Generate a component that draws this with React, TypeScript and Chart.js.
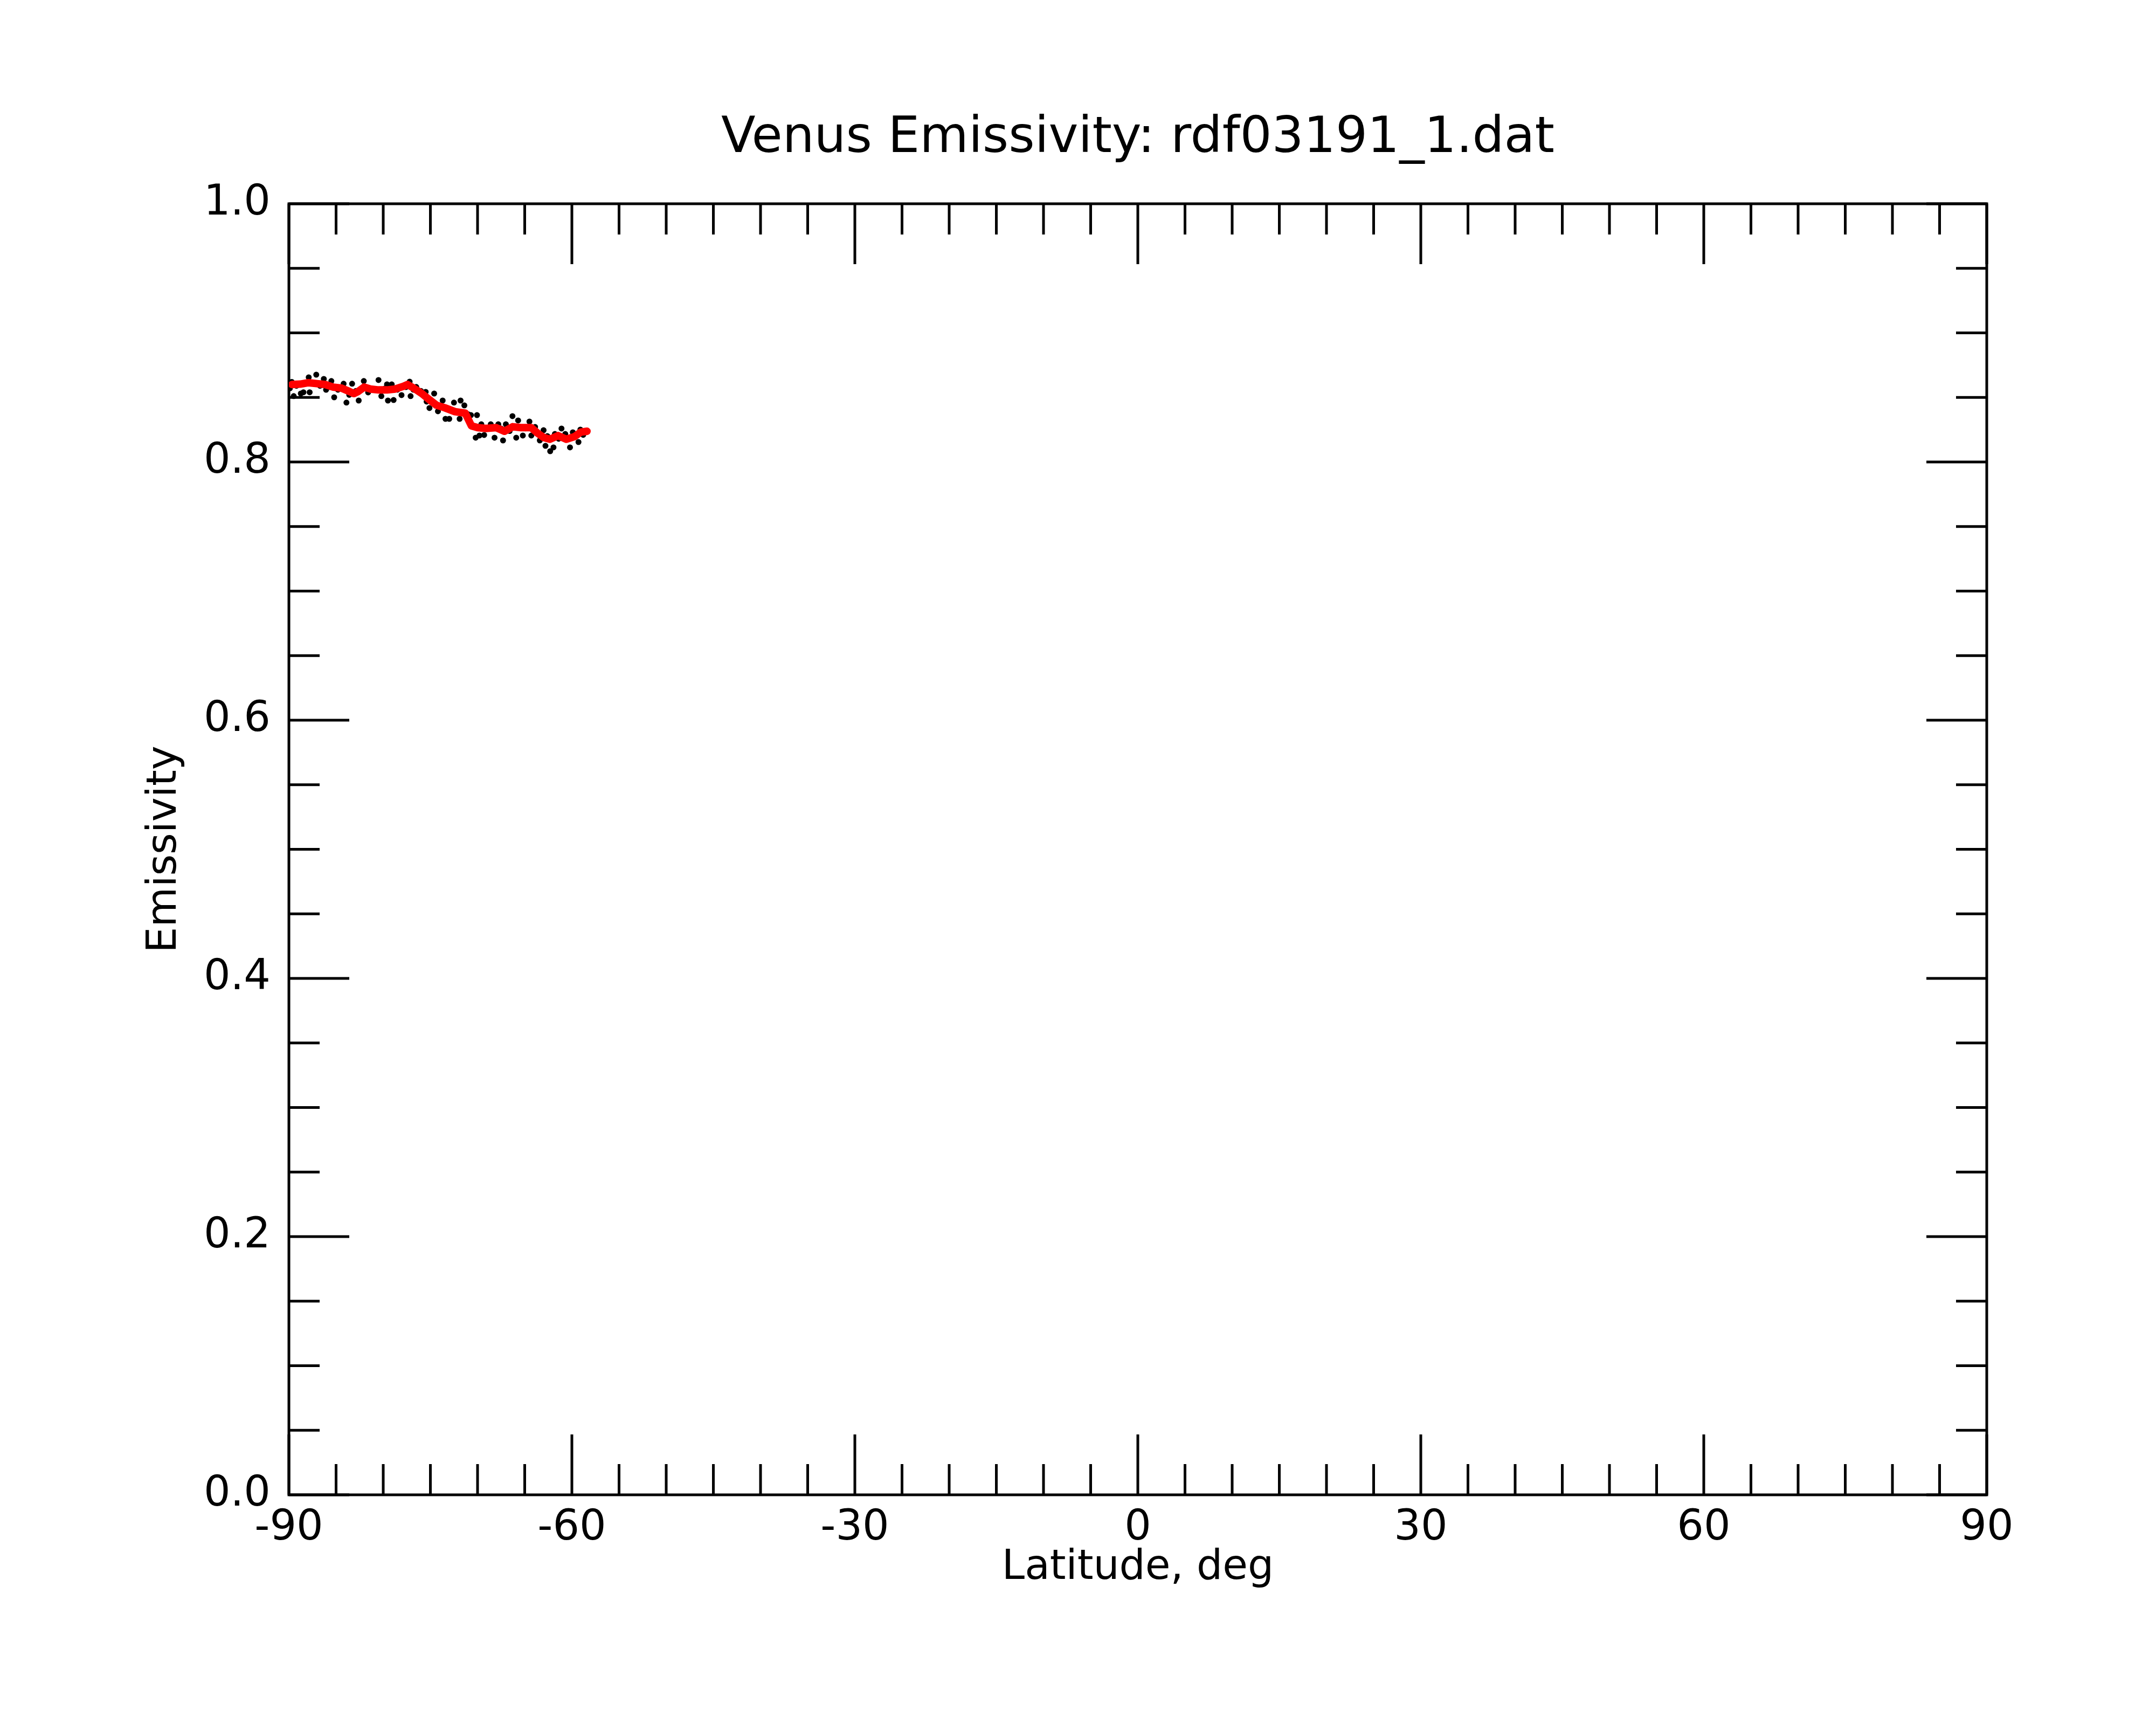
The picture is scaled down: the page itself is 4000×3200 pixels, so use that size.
import React, { useEffect, useRef } from "react";
import Chart from "chart.js/auto";

// smoothed emissivity profile (red line)
const smoothLat = [
  -89.67, -88.8, -87.92, -87.05, -86.17, -85.3, -84.42, -83.55, -83.11, -82.67,
  -82.02, -81.36, -80.49, -79.61, -78.74, -77.86, -77.43, -76.77, -75.9, -75.24,
  -74.36, -73.49, -72.4, -71.3, -70.65, -69.99, -69.12, -68.02, -67.15, -66.27,
  -65.4, -64.31, -63.65, -63.0, -62.34, -61.46, -60.59, -59.71, -59.06, -58.4,
];
const smoothEmis = [
  0.86, 0.8603, 0.8614, 0.8607, 0.86, 0.858, 0.8572, 0.8545, 0.853, 0.8545,
  0.858, 0.8565, 0.8558, 0.8558, 0.8565, 0.8586, 0.86, 0.8572, 0.853, 0.849,
  0.844, 0.842, 0.839, 0.8378, 0.828, 0.8266, 0.826, 0.8266, 0.8238, 0.8273,
  0.8266, 0.8266, 0.8224, 0.819, 0.8176, 0.8204, 0.8176, 0.8197, 0.8231, 0.8238,
];

// raw measurements (black dots)
const rawLat = [
  -89.9, -89.7, -89.49, -89.2, -88.74, -88.46, -87.9, -87.8, -87.5, -87.1,
  -86.7, -86.3, -86.06, -85.8, -85.5, -85.2, -84.8, -84.2, -83.9, -83.6,
  -83.3, -82.9, -82.6, -82.06, -81.8, -81.6, -81.1, -80.5, -80.2, -79.8,
  -79.6, -79.5, -79.1, -78.9, -78.5, -78.06, -77.6, -77.2, -77.1, -76.8,
  -76.5, -76.0, -75.5, -75.4, -75.1, -74.6, -74.2, -73.9, -73.7, -73.4,
  -73.0, -72.8, -72.5, -71.9, -71.8, -71.4, -71.0, -70.7, -70.2, -70.06,
  -69.8, -69.6, -69.3, -68.9, -68.6, -68.2, -67.8, -67.5, -67.3, -67.0,
  -66.6, -66.3, -65.9, -65.7, -65.2, -64.9, -64.5, -64.3, -63.9, -63.4,
  -63.0, -62.8, -62.6, -62.3, -61.95, -61.8, -61.4, -61.1, -60.7, -60.4,
  -60.2, -59.9, -59.6, -59.3, -59.1, -58.8, -58.5,
];
const rawEmis = [
  0.857, 0.862, 0.851, 0.859, 0.853, 0.854, 0.8656, 0.854, 0.861, 0.8676,
  0.859, 0.8643, 0.8559, 0.858, 0.8627, 0.8501, 0.856, 0.8606, 0.846, 0.852,
  0.8606, 0.855, 0.8476, 0.8627, 0.857, 0.8539, 0.856, 0.8635, 0.851, 0.857,
  0.8601, 0.8476, 0.8601, 0.848, 0.856, 0.8518, 0.858, 0.8622, 0.851, 0.856,
  0.8581, 0.855, 0.8543, 0.8468, 0.8418, 0.853, 0.8393, 0.843, 0.8476, 0.8334,
  0.8334, 0.84, 0.846, 0.8334, 0.8476, 0.8438, 0.837, 0.8363, 0.8188, 0.8363,
  0.8205, 0.8292, 0.8209, 0.826, 0.8292, 0.8188, 0.8292, 0.8259, 0.8167, 0.8292,
  0.824, 0.8355, 0.8188, 0.8322, 0.8205, 0.826, 0.8313, 0.8205, 0.8271, 0.8167,
  0.8246, 0.8125, 0.82, 0.8083, 0.8113, 0.8217, 0.818, 0.8259, 0.8217, 0.818,
  0.8113, 0.823, 0.82, 0.8154, 0.8251, 0.821, 0.824,
];

const xTickLabels = [-90, -60, -30, 0, 30, 60, 90];
const yTickLabels = [0.0, 0.2, 0.4, 0.6, 0.8, 1.0];
const chartTitle = "Venus Emissivity: rdf03191_1.dat";

const FONT = "'DejaVu Sans', sans-serif";
const MAJOR = 112;
const MINOR = 57;

const inwardTicks = {
  id: "inwardTicks",
  beforeDatasetsDraw(chart: any) {
    const { ctx, chartArea: a, scales } = chart;
    const x = scales.x;
    const y = scales.y;
    ctx.save();
    ctx.strokeStyle = "#000";
    ctx.lineWidth = 5;
    ctx.beginPath();
    for (let v = -90; v <= 90; v += 5) {
      const px = x.getPixelForValue(v);
      const len = v % 30 === 0 ? MAJOR : MINOR;
      ctx.moveTo(px, a.bottom);
      ctx.lineTo(px, a.bottom - len);
      ctx.moveTo(px, a.top);
      ctx.lineTo(px, a.top + len);
    }
    for (let i = 0; i <= 20; i++) {
      const py = y.getPixelForValue(i * 0.05);
      const len = i % 4 === 0 ? MAJOR : MINOR;
      ctx.moveTo(a.left, py);
      ctx.lineTo(a.left + len, py);
      ctx.moveTo(a.right, py);
      ctx.lineTo(a.right - len, py);
    }
    ctx.stroke();
    ctx.strokeRect(a.left, a.top, a.right - a.left, a.bottom - a.top);

    // title centred over the plot frame
    ctx.fillStyle = "#000";
    ctx.font = `93px ${FONT}`;
    ctx.textAlign = "center";
    ctx.textBaseline = "alphabetic";
    ctx.fillText(chartTitle, (a.left + a.right) / 2, 282);
    ctx.restore();
  },
};

export default function App() {
  const canvasRef = useRef<HTMLCanvasElement | null>(null);
  const chartRef = useRef<Chart | null>(null);

  useEffect(() => {
    document.body.style.margin = "0";
    const canvas = canvasRef.current;
    if (!canvas) return;
    if (chartRef.current) {
      chartRef.current.destroy();
      chartRef.current = null;
    }

    chartRef.current = new Chart(canvas, {
      type: "scatter",
      data: {
        datasets: [
          {
            label: "smoothed",
            data: smoothLat.map((v, i) => ({ x: v, y: smoothEmis[i] })),
            showLine: true,
            borderColor: "#ff0000",
            borderWidth: 14,
            borderJoinStyle: "round",
            borderCapStyle: "round",
            pointRadius: 0,
            order: 0,
          },
          {
            label: "raw",
            data: rawLat.map((v, i) => ({ x: v, y: rawEmis[i] })),
            backgroundColor: "#000",
            borderWidth: 0,
            pointRadius: 5.5,
            order: 1,
          },
        ],
      },
      options: {
        animation: false,
        responsive: false,
        devicePixelRatio: 1,
        events: [],
        layout: { padding: { left: 0, right: 314, top: 378, bottom: 200 } },
        plugins: {
          legend: { display: false },
          tooltip: { enabled: false },
          title: { display: false },
        },
        scales: {
          x: {
            type: "linear",
            min: -90,
            max: 90,
            afterBuildTicks: (s: any) => {
              s.ticks = xTickLabels.map((v) => ({ value: v }));
            },
            afterFit: (s: any) => {
              s.height = 227;
            },
            grid: { display: false },
            border: { display: false },
            ticks: {
              color: "#000",
              font: { family: FONT, size: 78 },
              padding: 8,
              maxRotation: 0,
              autoSkip: false,
            },
            title: {
              display: true,
              text: "Latitude, deg",
              color: "#000",
              font: { family: FONT, size: 76 },
              padding: { top: 0, bottom: 45 },
            },
          },
          y: {
            type: "linear",
            min: 0,
            max: 1,
            afterBuildTicks: (s: any) => {
              s.ticks = yTickLabels.map((v) => ({ value: v }));
            },
            afterFit: (s: any) => {
              s.width = 536;
            },
            grid: { display: false },
            border: { display: false },
            ticks: {
              color: "#000",
              font: { family: FONT, size: 78 },
              padding: 26,
              autoSkip: false,
              callback: (v: any) => Number(v).toFixed(1),
            },
            title: {
              display: true,
              text: "Emissivity",
              color: "#000",
              font: { family: FONT, size: 76 },
              padding: { top: 261, bottom: 0 },
            },
          },
        },
      } as any,
      plugins: [inwardTicks],
    });

    return () => {
      if (chartRef.current) {
        chartRef.current.destroy();
        chartRef.current = null;
      }
    };
  }, []);

  return (
    <div style={{ width: "4000px", height: "3200px", background: "#fff" }}>
      <canvas ref={canvasRef} width={4000} height={3200} />
    </div>
  );
}
